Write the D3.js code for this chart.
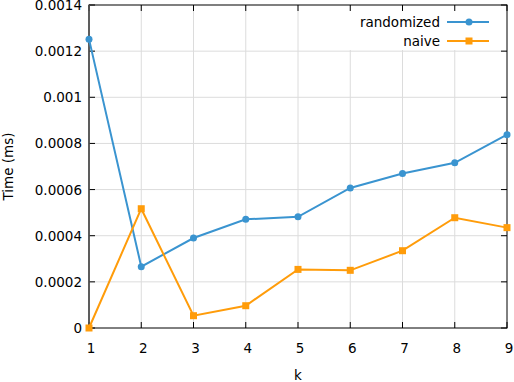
<!DOCTYPE html>
<html>
<head>
<meta charset="utf-8">
<script src="https://cdn.jsdelivr.net/npm/d3@7"></script>
<style>
  body { margin: 0; background: #fff; }
  text { font-family: "DejaVu Sans", sans-serif; fill: #000; }
</style>
</head>
<body>
<svg width="514" height="382"></svg>
<script>
// data
const kValues = [1, 2, 3, 4, 5, 6, 7, 8, 9];
const randomized = [0.001252, 0.000266, 0.00039, 0.000471, 0.000482, 0.000607, 0.00067, 0.000716, 0.000838];
const naive = [0.0, 0.000517, 0.0000533, 0.0000966, 0.000254, 0.00025, 0.000335, 0.000478, 0.000435];
const yTicks = [0, 0.0002, 0.0004, 0.0006, 0.0008, 0.001, 0.0012, 0.0014];
const yTickLabels = ["0", "0.0002", "0.0004", "0.0006", "0.0008", "0.001", "0.0012", "0.0014"];
const seriesNames = ["randomized", "naive"];

const svg = d3.select('svg');
const margin = {"left": 89, "right": 7, "top": 5, "bottom": 54};
const width = +svg.attr('width') - margin.left - margin.right;
const height = +svg.attr('height') - margin.top - margin.bottom;

const blue = "#3a94d0";
const orange = "#ff9c0a";
const colors = [blue, orange];

const xScale = d3.scaleLinear().domain([1, 9]).range([0, width]);
const yScale = d3.scaleLinear().domain([0, 0.0014]).range([height, 0]);

const g = svg.append("g").attr("transform", "translate(" + margin.left + "," + margin.top + ")");

// grid
g.append("g").selectAll("line").data(kValues.slice(1, -1)).enter().append("line")
  .attr("x1", d => xScale(d)).attr("x2", d => xScale(d))
  .attr("y1", 0).attr("y2", height)
  .attr("stroke", "#dcdcdc").attr("stroke-width", 1);
g.append("g").selectAll("line").data(yTicks.slice(1, -1)).enter().append("line")
  .attr("x1", 0).attr("x2", width)
  .attr("y1", d => yScale(d)).attr("y2", d => yScale(d))
  .attr("stroke", "#dcdcdc").attr("stroke-width", 1);

// opaque legend box (gnuplot style)
g.append("rect").attr("x", 255).attr("y", 1).attr("width", width - 256).attr("height", 44)
  .attr("fill", "#fff");

// ticks inside, mirrored
const tickLen = 6;
const ticks = g.append("g").attr("stroke", "#000").attr("stroke-width", 1);
kValues.forEach(k => {
  ticks.append("line").attr("x1", xScale(k)).attr("x2", xScale(k)).attr("y1", height).attr("y2", height - tickLen);
  ticks.append("line").attr("x1", xScale(k)).attr("x2", xScale(k)).attr("y1", 0).attr("y2", tickLen);
});
yTicks.forEach(v => {
  ticks.append("line").attr("x1", 0).attr("x2", tickLen).attr("y1", yScale(v)).attr("y2", yScale(v));
  ticks.append("line").attr("x1", width).attr("x2", width - tickLen).attr("y1", yScale(v)).attr("y2", yScale(v));
});

// frame
g.append("rect").attr("x", 0).attr("y", 0).attr("width", width).attr("height", height)
  .attr("fill", "none").attr("stroke", "#000").attr("stroke-width", 1);
g.append("line").attr("x1", 0).attr("x2", 0).attr("y1", 0).attr("y2", height)
  .attr("stroke", "#555").attr("stroke-width", 1.6);

// tick labels
g.append("g").selectAll("text").data(kValues).enter().append("text")
  .attr("x", d => xScale(d) + 2).attr("y", height + 25)
  .attr("text-anchor", "middle").style("font-size", "13.5px")
  .text(d => d);
g.append("g").selectAll("text").data(yTicks).enter().append("text")
  .attr("x", -7).attr("y", d => yScale(d) + 5)
  .attr("text-anchor", "end").style("font-size", "13.5px")
  .text((d, i) => yTickLabels[i]);

// axis titles
svg.append("text").attr("x", margin.left + width / 2).attr("y", 380)
  .attr("text-anchor", "middle").style("font-size", "13.5px").text("k");
svg.append("text").attr("transform", "translate(13," + (margin.top + height / 2) + ") rotate(-90)")
  .attr("text-anchor", "middle").style("font-size", "13.5px").text("Time (ms)");

// lines and markers
const line = d3.line().x((d, i) => xScale(kValues[i])).y(d => yScale(d));
[randomized, naive].forEach((vals, si) => {
  g.append("path").datum(vals).attr("d", line)
    .attr("fill", "none").attr("stroke", colors[si]).attr("stroke-width", 2);
});
g.append("g").selectAll("circle").data(randomized).enter().append("circle")
  .attr("cx", (d, i) => xScale(kValues[i])).attr("cy", d => yScale(d))
  .attr("r", 3.5).attr("fill", blue);
g.append("g").selectAll("rect").data(naive).enter().append("rect")
  .attr("x", (d, i) => xScale(kValues[i]) - 3.5).attr("y", d => yScale(d) - 3.5)
  .attr("width", 7).attr("height", 7).attr("fill", orange);

// legend
const legend = g.append("g");
seriesNames.forEach((name, i) => {
  const y = 17 + i * 19;
  legend.append("text").attr("x", 351).attr("y", y + 5)
    .attr("text-anchor", "end").style("font-size", "13.5px").text(name);
  legend.append("line").attr("x1", 358).attr("x2", 400).attr("y1", y).attr("y2", y)
    .attr("stroke", colors[i]).attr("stroke-width", 2);
  if (i === 0) {
    legend.append("circle").attr("cx", 380).attr("cy", y).attr("r", 3.5).attr("fill", colors[i]);
  } else {
    legend.append("rect").attr("x", 376.5).attr("y", y - 3.5).attr("width", 7).attr("height", 7).attr("fill", colors[i]);
  }
});
</script>
</body>
</html>
